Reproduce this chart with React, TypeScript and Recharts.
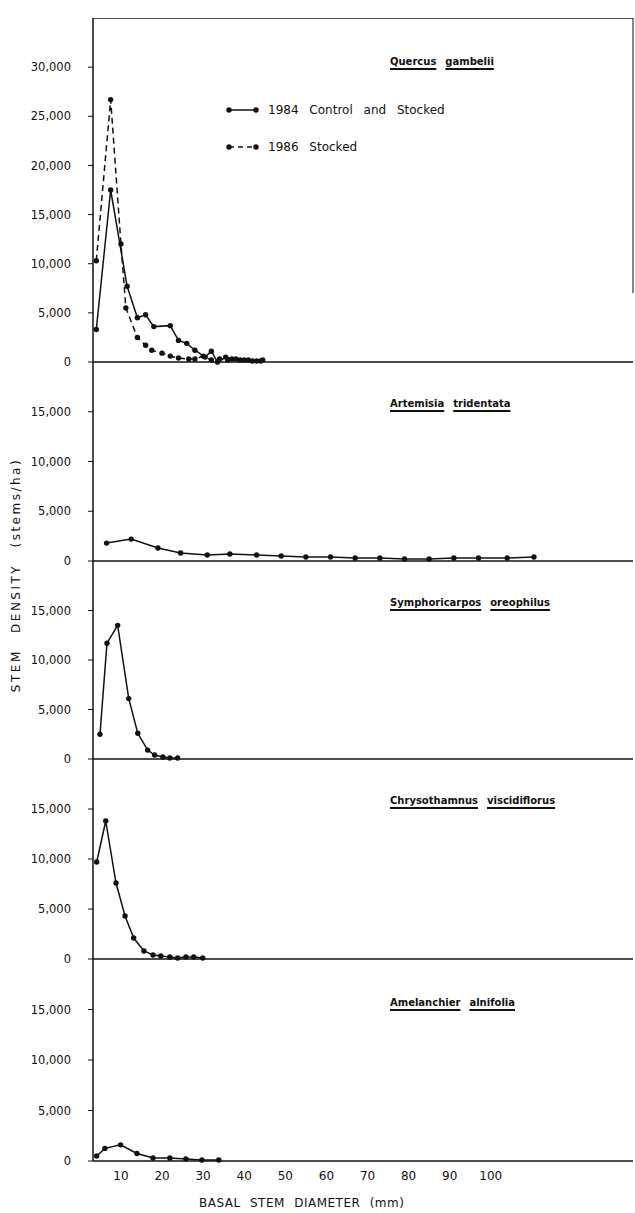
import React from "react";
import { LineChart, Line, XAxis, YAxis, ReferenceLine } from "recharts";

// basal stem diameter (mm) and stem density (stems/ha)
const quercusX84 = [4, 7.5, 11.5, 14, 16, 18, 22, 24, 26, 28, 30.5, 32, 33.5, 35.5, 37, 39, 41, 43, 44.5];
const quercus1984 = [3300, 17500, 7700, 4500, 4800, 3600, 3700, 2200, 1900, 1200, 500, 1100, 0, 500, 300, 200, 200, 100, 200];
const quercusX86 = [4, 7.5, 10, 11.2, 14, 16, 17.5, 20, 22, 24, 26.5, 28, 30, 32, 34, 36, 38, 40, 42, 44];
const quercus1986 = [10300, 26700, 12000, 5500, 2500, 1700, 1200, 900, 600, 400, 300, 300, 600, 200, 300, 200, 300, 200, 100, 100];

const artemisiaX = [6.5, 12.5, 19, 24.5, 31, 36.5, 43, 49, 55, 61, 67, 73, 79, 85, 91, 97, 104, 110.5];
const artemisia = [1800, 2200, 1300, 800, 600, 700, 600, 500, 400, 400, 300, 300, 200, 200, 300, 300, 300, 400];

const symphX = [4.9, 6.6, 9.2, 11.9, 14.1, 16.5, 18.2, 20.2, 21.9, 23.8];
const symph = [2500, 11700, 13500, 6100, 2600, 900, 400, 200, 100, 100];

const chrysoX = [4.1, 6.3, 8.8, 11, 13.1, 15.6, 17.8, 19.7, 21.9, 23.8, 25.8, 27.7, 29.9];
const chryso = [9700, 13800, 7600, 4300, 2100, 800, 400, 300, 200, 100, 200, 200, 100];

const amelX = [4.1, 6.1, 9.9, 13.9, 17.8, 21.9, 25.8, 29.7, 33.8];
const amel = [500, 1250, 1600, 750, 300, 300, 200, 100, 100];

const xTicks = [10, 20, 30, 40, 50, 60, 70, 80, 90, 100];
const bigTicks = [0, 5000, 10000, 15000, 20000, 25000, 30000];
const smallTicks = [0, 5000, 10000, 15000];

const pts = (xs: number[], ys: number[]) => xs.map((d, i) => ({ d, v: ys[i] }));

const FONT = "'DejaVu Sans', sans-serif";
const W = 635;
const AXIS_X = 93;
const X_DOMAIN: [number, number] = [3.2, 134.6];
const PAD = 10;

type S = { data: { d: number; v: number }[]; dashed?: boolean };

function Panel({
  top,
  height,
  max,
  ticks,
  series,
  bottom,
  frame,
}: {
  top: number;
  height: number;
  max: number;
  ticks: number[];
  series: S[];
  bottom?: boolean;
  frame?: boolean;
}) {
  const extra = bottom ? 30 : PAD;
  return (
    <div style={{ position: "absolute", left: 0, top, width: W, height: height + extra }}>
      <LineChart
        width={W}
        height={height + extra}
        margin={{ top: 0, right: W - 633, bottom: bottom ? 0 : PAD, left: 0 }}
      >
        <XAxis
          type="number"
          dataKey="d"
          domain={X_DOMAIN}
          ticks={xTicks}
          hide={!bottom}
          height={bottom ? extra : 0}
          tickSize={0}
          tickMargin={10}
          axisLine={{ stroke: "#111", strokeWidth: 1.5 }}
          tick={{ fill: "#111", fontSize: 12, fontFamily: FONT }}
          allowDataOverflow
        />
        <YAxis
          type="number"
          dataKey="v"
          domain={[0, max]}
          ticks={ticks}
          width={AXIS_X}
          tickSize={5}
          tickMargin={17}
          interval={0}
          tickFormatter={(v: number) => v.toLocaleString("en-US")}
          axisLine={{ stroke: "#111", strokeWidth: 1.5 }}
          tickLine={{ stroke: "#111" }}
          tick={{ fill: "#111", fontSize: 11.5, fontFamily: FONT }}
        />
        {!bottom && <ReferenceLine y={0} stroke="#111" strokeWidth={1.5} />}
        {frame && <ReferenceLine y={max} stroke="#111" strokeWidth={1.5} />}
        {frame && (
          <ReferenceLine
            segment={[
              { x: X_DOMAIN[1], y: max },
              { x: X_DOMAIN[1], y: max * 0.2 },
            ]}
            stroke="#111"
            strokeWidth={1}
          />
        )}
        {series.map((s, i) => (
          <Line
            key={i}
            data={s.data}
            dataKey="v"
            type="linear"
            stroke="#111"
            strokeWidth={1.5}
            strokeDasharray={s.dashed ? "6 4" : undefined}
            dot={{ r: 2.7, fill: "#111", stroke: "#111", strokeWidth: 0 }}
            isAnimationActive={false}
          />
        ))}
      </LineChart>
    </div>
  );
}

function Species({ top, left = 390, words }: { top: number; left?: number; words: string[] }) {
  return (
    <div
      style={{
        position: "absolute",
        left,
        top,
        fontFamily: FONT,
        fontSize: 10,
        fontWeight: 700,
        color: "#111",
        whiteSpace: "nowrap",
        lineHeight: "14px",
      }}
    >
      {words.map((w, i) => (
        <span
          key={i}
          style={{
            textDecoration: "underline",
            textDecorationThickness: "1.5px",
            textUnderlineOffset: "3px",
            marginRight: 9,
          }}
        >
          {w}
        </span>
      ))}
    </div>
  );
}

function LegendRow({ top, dashed, text }: { top: number; dashed?: boolean; text: string }) {
  return (
    <div style={{ position: "absolute", left: 226, top, display: "flex", alignItems: "center", whiteSpace: "nowrap" }}>
      <svg width={34} height={10}>
        <line x1={3} y1={5} x2={30} y2={5} stroke="#111" strokeWidth={1.5} strokeDasharray={dashed ? "5 4" : undefined} />
        <circle cx={3} cy={5} r={2.7} fill="#111" />
        <circle cx={30} cy={5} r={2.7} fill="#111" />
      </svg>
      <span style={{ marginLeft: 8, fontFamily: FONT, fontSize: 12, color: "#111", wordSpacing: 7 }}>{text}</span>
    </div>
  );
}

export default function App() {
  return (
    <div style={{ position: "absolute", left: 0, top: 0, width: W, height: 1213, background: "#fff" }}>
      <Panel
        top={18}
        height={344}
        max={35000}
        ticks={bigTicks}
        frame
        series={[{ data: pts(quercusX84, quercus1984) }, { data: pts(quercusX86, quercus1986), dashed: true }]}
      />
      <Panel top={362} height={199} max={20000} ticks={smallTicks} series={[{ data: pts(artemisiaX, artemisia) }]} />
      <Panel top={561} height={198} max={20000} ticks={smallTicks} series={[{ data: pts(symphX, symph) }]} />
      <Panel top={759} height={200} max={20000} ticks={smallTicks} series={[{ data: pts(chrysoX, chryso) }]} />
      <Panel top={959} height={202} max={20000} ticks={smallTicks} bottom series={[{ data: pts(amelX, amel) }]} />

      <Species top={55} words={["Quercus", "gambelii"]} />
      <Species top={397} words={["Artemisia", "tridentata"]} />
      <Species top={596} words={["Symphoricarpos", "oreophilus"]} />
      <Species top={794} words={["Chrysothamnus", "viscidiflorus"]} />
      <Species top={996} words={["Amelanchier", "alnifolia"]} />

      <LegendRow top={103} text="1984 Control and Stocked" />
      <LegendRow top={140} dashed text="1986 Stocked" />

      <div
        style={{
          position: "absolute",
          left: 16,
          top: 575,
          transform: "translate(-50%, -50%) rotate(-90deg)",
          fontFamily: FONT,
          fontSize: 12,
          letterSpacing: 2.5,
          wordSpacing: 10,
          color: "#111",
          whiteSpace: "nowrap",
        }}
      >
        STEM DENSITY (stems/ha)
      </div>
      <div
        style={{
          position: "absolute",
          left: 199,
          top: 1196,
          fontFamily: FONT,
          fontSize: 12,
          letterSpacing: 0.5,
          wordSpacing: 5,
          color: "#111",
          whiteSpace: "nowrap",
        }}
      >
        BASAL STEM DIAMETER (mm)
      </div>
    </div>
  );
}
